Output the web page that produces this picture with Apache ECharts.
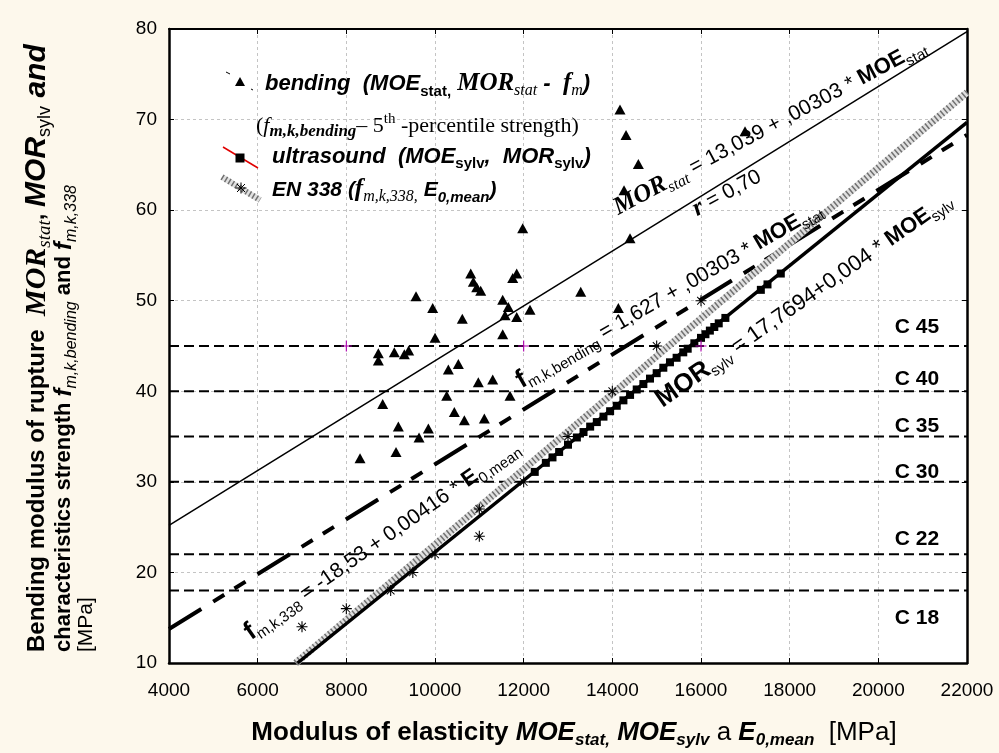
<!DOCTYPE html>
<html>
<head>
<meta charset="utf-8">
<title>MOE vs MOR</title>
<script src="https://cdn.jsdelivr.net/npm/echarts@6/dist/echarts.min.js"></script>
<style>
  html, body { margin: 0; padding: 0; background: #fdf8ec; }
  #chart { width: 999px; height: 753px; }
</style>
</head>
<body>
<div id="chart"></div>
<script>
const xMin = 4000, xMax = 22000, xStep = 2000
const yMin = 10, yMax = 80, yStep = 10

// bending test (MOE_stat, MOR_stat)
const bendingMOE = [8309, 8722, 8722, 8820, 9082, 9121, 9173, 9308, 9406, 9572, 9640, 9850,
  9948, 10001, 10264, 10301, 10436, 10527, 10616, 10662, 10806, 10865, 10941, 10977, 11031,
  11113, 11302, 11527, 11527, 11580, 11654, 11692, 11753, 11843, 11843, 11978, 12143, 13287,
  14136, 14173, 14264, 14309, 14399, 14587, 16993]
const bendingMOR = [32.6, 44.2, 43.4, 38.6, 44.3, 33.3, 36.1, 44.1, 44.5, 50.5, 34.9, 35.9,
  49.2, 45.9, 39.5, 42.4, 37.7, 43.0, 48.0, 36.8, 53.0, 52.1, 51.5, 41.0, 51.1,
  37.0, 41.3, 50.1, 46.3, 48.4, 49.3, 39.5, 52.5, 53.0, 48.2, 58.0, 49.0, 51.0,
  49.2, 71.1, 62.2, 68.3, 56.9, 65.1, 68.7]

// ultrasound (MOE_sylv, MOR_sylv)
const sylvMOE = [12250, 12500, 12650, 12800, 13000, 13200, 13350, 13500, 13650, 13800, 13950,
  14100, 14250, 14400, 14550, 14700, 14850, 15000, 15150, 15300, 15450, 15600, 15700, 15850,
  16000, 16100, 16200, 16300, 16400, 16550, 17350, 17500, 17800]
const sylvMOR = [31.1, 32.1, 32.7, 33.3, 34.1, 34.9, 35.5, 36.1, 36.6, 37.2, 37.8,
  38.4, 39.0, 39.6, 40.2, 40.8, 41.4, 42.0, 42.6, 43.2, 43.7, 44.3, 44.7, 45.3,
  45.9, 46.3, 46.7, 47.1, 47.5, 48.1, 51.2, 51.8, 53.0]

// EN 338 (E0,mean, fm,k)
const en338E = [7000, 8000, 9000, 9500, 10000, 11000, 11000, 12000, 13000, 14000, 15000, 16000]
const en338F = [14, 16, 18, 20, 22, 24, 27, 30, 35, 40, 45, 50]

// small magenta marks
const markE = [8000, 12000, 16000]
const markF = [45, 45, 45]

// regression lines (end points)
const statLineX = [4000, 22000]
const statLineY = [25.2, 79.7]
const bendLineX = [4000, 22000]
const bendLineY = [13.75, 68.3]
const en338LineX = [6858, 22000]
const en338LineY = [10, 73.0]
const sylvLineX = [6900, 22000]
const sylvLineY = [10, 69.7]

// strength classes
const classNames = ['C 45', 'C 40', 'C 35', 'C 30', 'C 22', 'C 18']
const classValues = [45, 40, 35, 30, 22, 18]

const SANS = '"Liberation Sans", Arial, sans-serif'
const SERIF = '"Liberation Serif", "Times New Roman", serif'

const zip = (xs, ys) => xs.map((x, i) => [x, ys[i]])

const ASTERISK = 'path://M0,4.5H10V5.5H0ZM4.5,0H5.5V10H4.5ZM1.2,1.8L1.8,1.2L8.8,8.2L8.2,8.8ZM8.2,1.2L8.8,1.8L1.8,8.8L1.2,8.2Z'
const PLUS = 'path://M4.5,0H5.5V10H4.5ZM0,4.5H10V5.5H0Z'

const classLabelX = 20870
const classLabelDy = [-19, -12, -10, -10, -15, 28]

// rich text styles for annotations
const rich = {
  n: { fontFamily: SANS, fontSize: 21, lineHeight: 30 },
  n22: { fontFamily: SANS, fontSize: 22, lineHeight: 30 },
  b: { fontFamily: SANS, fontSize: 22, fontWeight: 'bold', lineHeight: 30 },
  bb: { fontFamily: SANS, fontSize: 26, fontWeight: 'bold', lineHeight: 30 },
  bi: { fontFamily: SANS, fontSize: 21, fontWeight: 'bold', fontStyle: 'italic', lineHeight: 28 },
  bi2: { fontFamily: SANS, fontSize: 22, fontWeight: 'bold', fontStyle: 'italic', lineHeight: 28 },
  ss: { fontFamily: SANS, fontSize: 15, verticalAlign: 'bottom' },
  sb: { fontFamily: SANS, fontSize: 15, fontWeight: 'bold', verticalAlign: 'bottom' },
  sbi: { fontFamily: SANS, fontSize: 15, fontWeight: 'bold', fontStyle: 'italic', verticalAlign: 'bottom' },
  t: { fontFamily: SERIF, fontSize: 22, lineHeight: 28 },
  ti: { fontFamily: SERIF, fontSize: 22, fontStyle: 'italic', lineHeight: 28 },
  tbi: { fontFamily: SERIF, fontSize: 25, fontWeight: 'bold', fontStyle: 'italic', lineHeight: 30 },
  tis: { fontFamily: SERIF, fontSize: 16, fontStyle: 'italic', verticalAlign: 'bottom' },
  tbis: { fontFamily: SERIF, fontSize: 17, fontWeight: 'bold', fontStyle: 'italic', verticalAlign: 'bottom' },
  sup: { fontFamily: SERIF, fontSize: 15, verticalAlign: 'top' }
}

function txt(x, y, text, deg, align) {
  return {
    type: 'text', x, y, rotation: (deg || 0) * Math.PI / 180, z: 100,
    style: { text, rich, fill: '#000', align: align || 'center', verticalAlign: 'middle' }
  }
}

const richAxis = {
  b: { fontFamily: SANS, fontSize: 26, fontWeight: 'bold', lineHeight: 32 },
  bi: { fontFamily: SANS, fontSize: 26, fontWeight: 'bold', fontStyle: 'italic', lineHeight: 32 },
  n: { fontFamily: SANS, fontSize: 26, lineHeight: 32 },
  sbi: { fontFamily: SANS, fontSize: 17, fontWeight: 'bold', fontStyle: 'italic', verticalAlign: 'bottom' },
  yb1: { fontFamily: SANS, fontSize: 24, fontWeight: 'bold', lineHeight: 34 },
  yb: { fontFamily: SANS, fontSize: 22, fontWeight: 'bold', lineHeight: 32 },
  ybi: { fontFamily: SANS, fontSize: 30, fontWeight: 'bold', fontStyle: 'italic', lineHeight: 34 },
  yfi: { fontFamily: SANS, fontSize: 24, fontWeight: 'bold', fontStyle: 'italic', lineHeight: 32 },
  yn: { fontFamily: SANS, fontSize: 21, lineHeight: 32 },
  ys: { fontFamily: SANS, fontSize: 18, verticalAlign: 'bottom' },
  ysi: { fontFamily: SANS, fontSize: 16, fontStyle: 'italic', verticalAlign: 'bottom' },
  tbi: { fontFamily: SERIF, fontSize: 30, fontWeight: 'bold', fontStyle: 'italic', lineHeight: 34 },
  tis: { fontFamily: SERIF, fontSize: 19, fontStyle: 'italic', verticalAlign: 'bottom' }
}

function axisTxt(x, y, text, deg, align) {
  return {
    type: 'text', x, y, rotation: (deg || 0) * Math.PI / 180, z: 100,
    style: { text, rich: richAxis, fill: '#000', align: align || 'center', verticalAlign: 'middle' }
  }
}

function seg(x1, y1, x2, y2, stroke, lineWidth, lineDash) {
  return {
    type: 'line', z: 101, shape: { x1, y1, x2, y2 },
    style: { stroke, lineWidth, lineDash: lineDash || null }
  }
}

const chart = echarts.init(document.getElementById('chart'))

const classSeries = classValues.map((v, i) => ({
  type: 'line',
  name: classNames[i],
  data: [[xMin, v], [xMax, v]],
  symbol: 'none',
  silent: true,
  z: 2,
  lineStyle: { color: '#000', width: 2, type: [10, 5] }
}))

chart.setOption({
  animation: false,
  backgroundColor: '#fdf8ec',
  grid: {
    left: 169, right: 32, top: 29, bottom: 90,
    show: true, backgroundColor: '#fff', borderWidth: 0
  },
  xAxis: [{
    type: 'value', min: xMin, max: xMax, interval: xStep,
    axisLine: { onZero: false, lineStyle: { color: '#000', width: 2.5 } },
    axisTick: { inside: true, length: 5, lineStyle: { color: '#000', width: 1 } },
    axisLabel: { color: '#000', fontSize: 19, fontFamily: SANS, margin: 18, formatter: v => String(v) },
    splitLine: { show: true, lineStyle: { color: '#c4c4c4', type: [3, 3], width: 1 } }
  }, {
    type: 'value', min: xMin, max: xMax, interval: xStep, position: 'top',
    axisLine: { onZero: false, lineStyle: { color: '#000', width: 2 } },
    axisTick: { inside: true, length: 5, lineStyle: { color: '#000' } },
    axisLabel: { show: false },
    splitLine: { show: false }
  }],
  yAxis: [{
    type: 'value', min: yMin, max: yMax, interval: yStep,
    axisLine: { show: true, onZero: false, lineStyle: { color: '#000', width: 2.5 } },
    axisTick: { show: true, inside: true, length: 5, lineStyle: { color: '#000' } },
    axisLabel: { color: '#000', fontSize: 19, fontFamily: SANS, margin: 12 },
    splitLine: { show: true, lineStyle: { color: '#c4c4c4', type: [3, 3], width: 1 } }
  }, {
    type: 'value', min: yMin, max: yMax, interval: yStep, position: 'right',
    axisLine: { show: true, onZero: false, lineStyle: { color: '#000', width: 2.5 } },
    axisTick: { show: true, inside: true, length: 5, lineStyle: { color: '#000' } },
    axisLabel: { show: false },
    splitLine: { show: false }
  }],
  series: [
    ...classSeries,
    {
      type: 'scatter', name: 'class labels', silent: true, z: 3,
      symbolSize: 0, itemStyle: { opacity: 1 },
      data: classValues.map((v, i) => ({
        value: [classLabelX, v],
        label: { offset: [0, classLabelDy[i]] }
      })),
      label: {
        show: true, position: 'inside', color: '#000',
        fontFamily: SANS, fontSize: 21, fontWeight: 'bold',
        formatter: p => classNames[p.dataIndex]
      }
    },
    {
      type: 'line', name: 'MOR_stat fit', data: zip(statLineX, statLineY),
      symbol: 'none', z: 4, lineStyle: { color: '#000', width: 1.5 }
    },
    {
      type: 'line', name: 'fm,k,bending', data: zip(bendLineX, bendLineY),
      symbol: 'none', z: 4, lineStyle: { color: '#000', width: 4, type: [38, 14, 13, 12, 13, 14] }
    },
    {
      type: 'line', name: 'EN 338 base', data: zip(en338LineX, en338LineY),
      symbol: 'none', z: 5, lineStyle: { color: '#e0e0e0', width: 7 }
    },
    {
      type: 'line', name: 'EN 338', data: zip(en338LineX, en338LineY),
      symbol: 'none', z: 5, lineStyle: { color: '#707070', width: 7, type: [1.5, 2.5] }
    },
    {
      type: 'line', name: 'MOR_sylv fit', data: zip(sylvLineX, sylvLineY),
      symbol: 'none', z: 6, lineStyle: { color: '#000', width: 3.5 }
    },
    {
      type: 'scatter', name: 'ultrasound', data: zip(sylvMOE, sylvMOR), z: 7,
      symbol: 'rect', symbolSize: 8, itemStyle: { color: '#000', opacity: 1 }
    },
    {
      type: 'scatter', name: 'EN 338 classes', data: zip(en338E, en338F), z: 8,
      symbol: ASTERISK, symbolSize: 11, itemStyle: { color: '#000', opacity: 1 }
    },
    {
      type: 'scatter', name: 'bending', data: zip(bendingMOE, bendingMOR), z: 8,
      symbol: 'triangle', symbolSize: [11, 10], itemStyle: { color: '#000', opacity: 1 }
    },
    {
      type: 'scatter', name: 'marks', data: zip(markE, markF), z: 8,
      symbol: PLUS, symbolSize: 11, itemStyle: { color: '#b000b0', opacity: 1 }
    }
  ],
  graphic: { elements: [
    // legend
    seg(226, 72, 230, 74, '#000', 1),
    { type: 'polygon', z: 100, shape: { points: [[235, 86], [245, 86], [240, 77]] }, style: { fill: '#000' } },
    seg(251, 89, 253, 90, '#000', 1),
    txt(265, 84, '{bi2|bending  (MOE}{sb|stat,}{bi2| }{tbi|MOR}{tis|stat}{bi2| -  }{tbi|f}{tis|m}{bi2|)}', 0, 'left'),
    txt(256, 126, '{t|(}{ti|f}{tbis|m,k,bending}{t|– 5}{sup|th}{t| -percentile strength)}', 0, 'left'),
    seg(223, 147, 258, 168, '#e00000', 1.5),
    { type: 'rect', z: 101, shape: { x: 235.5, y: 153.5, width: 9, height: 9 }, style: { fill: '#000' } },
    txt(272, 157, '{bi2|ultrasound  (MOE}{sb|sylv}{bi2|,  MOR}{sb|sylv}{bi2|)}', 0, 'left'),
    seg(222, 177, 260, 200, '#e0e0e0', 6),
    seg(222, 177, 260, 200, '#707070', 6, [1.5, 2.5]),
    seg(235.5, 188, 246.5, 188, '#000', 1),
    seg(241, 182.5, 241, 193.5, '#000', 1),
    seg(237, 184, 245, 192, '#000', 1),
    seg(245, 184, 237, 192, '#000', 1),
    txt(272, 190, '{bi|EN 338 (}{tbi|f}{tis|m,k,338,}{bi| E}{sbi|0,mean}{bi|)}', 0, 'left'),
    // regression labels
    txt(770, 127, '{tbi|MOR}{tis|stat}{n| = 13,039 + ,00303 * }{b|MOE}{ss|stat}', 28),
    txt(727, 193, '{tbi|r}{n| = 0,70}', 28),
    txt(669, 295, '{bb|f}{ss|m,k,bending}{n| = 1,627 + ,00303 * }{b|MOE}{ss|stat}', 30),
    txt(382, 540, '{bb|f}{ss|m,k,338}{n| = -18,53 + 0,00416 * }{b|E}{ss|0,mean}', 35),
    txt(804, 300, '{bb|MOR}{ss|sylv}{n22| = 17,7694+0,004 * }{b|MOE}{ss|sylv}', 35),
    // axis titles
    axisTxt(574, 733, '{b|Modulus of elasticity }{bi|MOE}{sbi|stat,}{b| }{bi|MOE}{sbi|sylv}{n| a }{bi|E}{sbi|0,mean}{n|  [MPa]}'),
    axisTxt(37, 652, '{yb1|Bending modulus of rupture  }{tbi|MOR}{tis|stat}{yb1|, }{ybi|MOR}{ys|sylv}{ybi| and}', 90, 'left'),
    axisTxt(64, 652, '{yb|characteristics strength }{yfi|f}{ysi|m,k,bending}{yb| and }{yfi|f}{ysi|m,k,338}', 90, 'left'),
    axisTxt(86, 652, '{yn|[MPa]}', 90, 'left')
  ] }
})
</script>
</body>
</html>
